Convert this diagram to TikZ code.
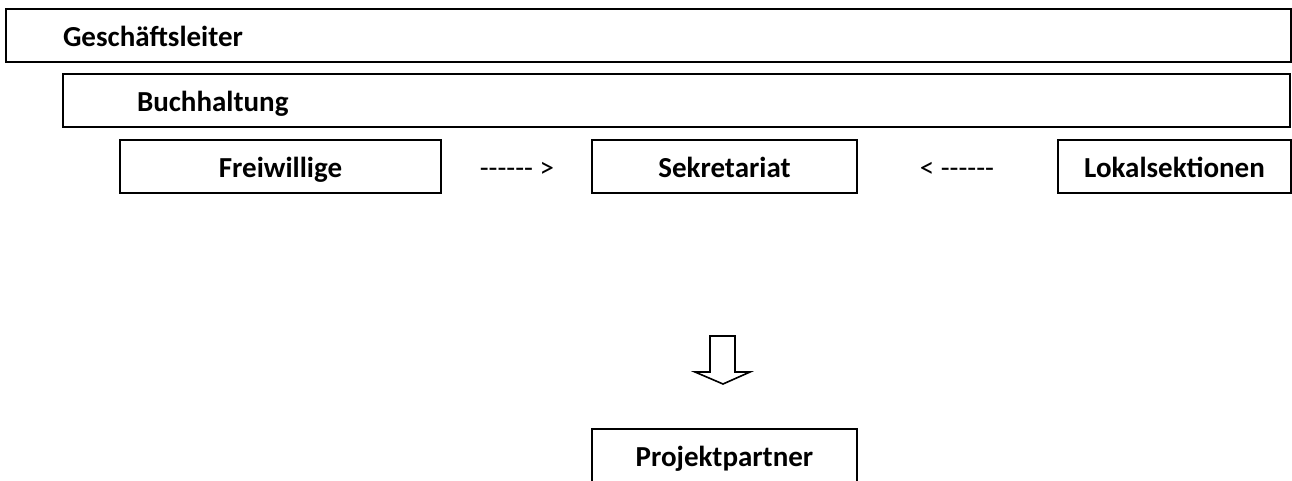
\documentclass[tikz,border=0pt]{standalone}
\usepackage{fontspec}
\setmainfont{Carlito}
\newcommand\hy{-\kern0pt}
\begin{document}
\begin{tikzpicture}[x=1pt,y=-1pt,
  box/.style={draw, line width=2.6pt, inner sep=0pt, minimum height=53pt,
    text height=24pt, text depth=1.6pt,
    font=\fontsize{29}{34}\selectfont\bfseries},
  lbl/.style={inner sep=0pt, text height=24pt, text depth=1.6pt,
    font=\fontsize{29}{34}\selectfont},
  blockarrow/.style={draw, line width=1.6pt, line join=miter, fill=white}]
\useasboundingbox (0,0) rectangle (1292,480);
\clip (0,0) rectangle (1292,480);

\node[box, minimum width=1285pt, text width=1171pt, inner xsep=57pt, align=left]
  (gl) at (648.5,35.5) {Geschäftsleiter};
\node[box, minimum width=1227pt, text width=1079pt, inner xsep=74pt, align=left]
  (bh) at (676.5,100.5) {Buchhaltung};

\node[box, minimum width=321pt] (fw) at (280.5,166.5) {Freiwillige};
\node[box, minimum width=265pt] (sk) at (724.5,166.5) {Sekretariat};
\node[box, minimum width=233pt] (ls) at (1174.5,166.5) {Lokalsektionen};

\node[lbl] (d1) at (517,166.5) {\hy\hy\hy\hy\hy\hy{} >};
\node[lbl] (d2) at (957,166.5) {< \hy\hy\hy\hy\hy\hy};

\node[box, minimum width=265pt] (pp) at (724.5,455.5) {Projektpartner};

\draw[blockarrow] (710,336) -- (735,336) -- (735,372) -- (750,372) -- (723,384)
  -- (695,372) -- (710,372) -- cycle;
\end{tikzpicture}
\end{document}
